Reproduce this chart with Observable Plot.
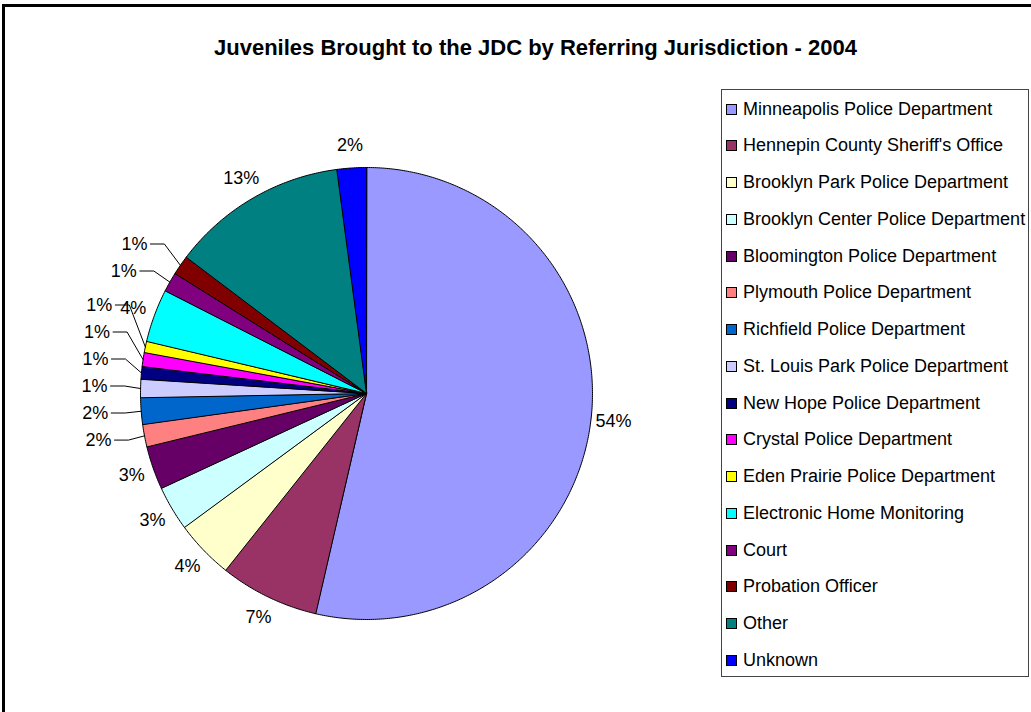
<!DOCTYPE html>
<html>
<head>
<meta charset="utf-8">
<script src="https://cdn.jsdelivr.net/npm/d3@7"></script>
<script src="https://cdn.jsdelivr.net/npm/@observablehq/plot@0.6"></script>
<style>
  body { margin: 0; background: #fff; font-family: "Liberation Sans", Arial, sans-serif; }
  #wrap { position: relative; width: 1031px; height: 712px; overflow: hidden; background: #fff; }
  #frame { position: absolute; left: 2px; top: 4px; width: 1100px; height: 800px; border: 3px solid #000; box-sizing: border-box; }
  #title { position: absolute; left: 0; top: 36px; width: 1071px; text-align: center; font-weight: bold; font-size: 22px; line-height: 24px; color: #000; }
  #chart { position: absolute; left: 0; top: 0; }
  #legend { position: absolute; left: 721px; top: 89px; width: 308px; height: 588px; border: 1px solid #444; padding: 0.5px 0 0 4px; box-sizing: border-box; background: #fff; }
  #legend .row { font-size: 18px; line-height: 36.78px; height: 36.78px; white-space: nowrap; color: #000; }
  #legend .sw { display: inline-block; width: 9px; height: 9px; border: 1px solid #000; margin-right: 6px; vertical-align: baseline; }
</style>
</head>
<body>
<div id="wrap">
  <div id="frame"></div>
  <div id="chart"></div>
  <div id="title">Juveniles Brought to the JDC by Referring Jurisdiction - 2004</div>
  <div id="legend"></div>
</div>
<script>
// ---- data ----
const categories = [
  "Minneapolis Police Department",
  "Hennepin County Sheriff's Office",
  "Brooklyn Park Police Department",
  "Brooklyn Center Police Department",
  "Bloomington Police Department",
  "Plymouth Police Department",
  "Richfield Police Department",
  "St. Louis Park Police Department",
  "New Hope Police Department",
  "Crystal Police Department",
  "Eden Prairie Police Department",
  "Electronic Home Monitoring",
  "Court",
  "Probation Officer",
  "Other",
  "Unknown"
];
const shares = [53.6, 7.1, 4.2, 3.2, 3.1, 1.6, 1.9, 1.3, 0.9, 1.0, 0.8, 3.8, 1.4, 1.4, 12.6, 2.1];
const colors = [
  "#9999FF", "#993366", "#FFFFCC", "#CCFFFF", "#660066", "#FF8080", "#0066CC", "#CCCCFF",
  "#000080", "#FF00FF", "#FFFF00", "#00FFFF", "#800080", "#800000", "#008080", "#0000FF"
];

// ---- layout ----
const W = 720, H = 712, CX = 366, CY = 393, R = 226;
const PX = 1 / R;                 // one pixel in data units
const R_LABEL = 1.1;
const LEADER_BELOW = 2;           // shares under this get a leader line
const GAP = 27 * PX;

const rad = d => d * Math.PI / 180;
const total = d3.sum(shares);
let acc = 0;
const slices = categories.map((name, i) => {
  const a0 = acc / total * 360;
  acc += shares[i];
  const a1 = acc / total * 360;
  return { name, value: shares[i], a0, a1, mid: (a0 + a1) / 2 };
});

// slice polygons
const pts = [];
for (const s of slices) {
  pts.push({ name: s.name, x: 0, y: 0 });
  const n = Math.max(2, Math.ceil((s.a1 - s.a0) / 0.5));
  for (let k = 0; k <= n; k++) {
    const a = s.a0 + (s.a1 - s.a0) * k / n;
    pts.push({ name: s.name, x: Math.sin(rad(a)), y: Math.cos(rad(a)) });
  }
}

// labels
const labels = slices.map(s => {
  const ex = Math.sin(rad(s.mid)), ey = Math.cos(rad(s.mid));
  const leader = s.value < LEADER_BELOW;
  return {
    name: s.name,
    text: Math.round(s.value / total * 100) + "%",
    ex, ey, leader,
    lx: leader ? ex - 46 * PX : R_LABEL * ex,
    ly: R_LABEL * ey
  };
});
// push leader labels apart, bottom up
const lead = labels.filter(d => d.leader).sort((a, b) => a.ly - b.ly);
for (let i = 1; i < lead.length; i++) {
  lead[i].ly = Math.max(lead[i].ly, lead[i - 1].ly + GAP);
}
const leaderPts = [];
for (const d of lead) {
  leaderPts.push({ name: d.name, x: d.lx + 16 * PX, y: d.ly });
  leaderPts.push({ name: d.name, x: d.lx + 30 * PX, y: d.ly });
  leaderPts.push({ name: d.name, x: d.ex, y: d.ey });
}

const chart = Plot.plot({
  width: W,
  height: H,
  margin: 0,
  x: { domain: [-CX / R, (W - CX) / R], axis: null },
  y: { domain: [-(H - CY) / R, CY / R], axis: null },
  color: { domain: categories, range: colors },
  style: { fontFamily: "'Liberation Sans', Arial, sans-serif", background: "transparent", overflow: "visible" },
  marks: [
    Plot.line(pts, { x: "x", y: "y", z: "name", fill: "name", stroke: "#000", strokeWidth: 1, curve: "linear-closed", strokeLinejoin: "miter" }),
    Plot.line(leaderPts, { x: "x", y: "y", z: "name", stroke: "#000", strokeWidth: 1 }),
    Plot.text(labels, { x: "lx", y: "ly", text: "text", fontSize: 18, fill: "#000" })
  ]
});
document.getElementById("chart").appendChild(chart);

// legend
const legend = document.getElementById("legend");
categories.forEach((name, i) => {
  const row = document.createElement("div");
  row.className = "row";
  const sw = document.createElement("span");
  sw.className = "sw";
  sw.style.background = colors[i];
  row.appendChild(sw);
  row.appendChild(document.createTextNode(name));
  legend.appendChild(row);
});
</script>
</body>
</html>
